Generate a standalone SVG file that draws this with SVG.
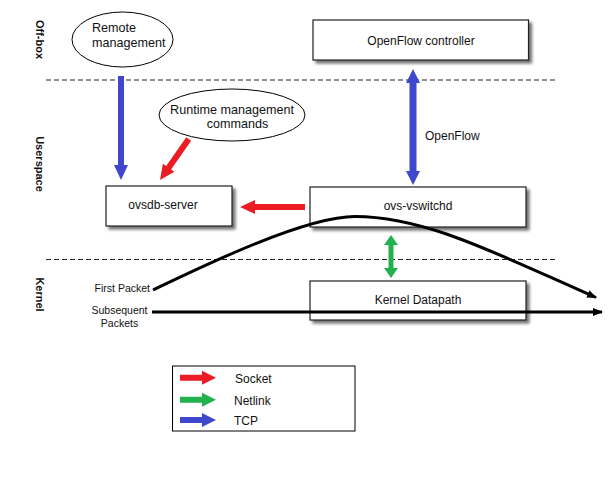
<svg xmlns="http://www.w3.org/2000/svg" width="616" height="486" viewBox="0 0 616 486">
<style>
text{font-family:"Liberation Sans",Arial,sans-serif;fill:#111;font-size:12px}
.lbl{text-anchor:middle}
.big{font-size:12.6px}
.side{font-weight:bold;font-size:11px;text-anchor:middle;dominant-baseline:central}
.small{font-size:10.5px}
.box{fill:#fff;stroke:#222;stroke-width:1.2;filter:url(#sh)}
.ell{fill:#fff;stroke:#000;stroke-width:1}
.dash{stroke:#222;stroke-width:1;stroke-dasharray:5 3;fill:none}
.red{fill:#ed1c24}
.green{fill:#22b14c}
.blue{fill:#3f48cc}
.flow{fill:none;stroke:#000;stroke-width:3}
</style>
<defs>
<filter id="sh" x="-10%" y="-20%" width="125%" height="160%">
<feDropShadow dx="3" dy="3" stdDeviation="1.5" flood-color="#000" flood-opacity="0.55"/>
</filter>
<marker id="ah" markerWidth="10" markerHeight="8" refX="9" refY="4" orient="auto" markerUnits="userSpaceOnUse">
<path d="M0,0 L10,4 L0,8 Z" fill="#000"/>
</marker>
</defs>
<rect width="616" height="486" fill="#fff"/>

<g id="layer-labels">
<text class="side" transform="translate(40,39.5) rotate(90)">Off-box</text>
<text class="side" transform="translate(40,164) rotate(90)">Userspace</text>
<text class="side" transform="translate(40,294.5) rotate(90)">Kernel</text>
</g>

<g id="separators">
<line class="dash" x1="46" y1="80" x2="557" y2="80"/>
<line class="dash" x1="46" y1="259.5" x2="557" y2="259.5"/>
</g>

<g id="remote-management">
<ellipse class="ell" cx="122.5" cy="39.5" rx="50.5" ry="27.5"/>
<text class="big" x="92" y="32">Remote</text>
<text class="big" x="92" y="47">management</text>
</g>

<g id="runtime-management">
<ellipse class="ell" cx="232" cy="115" rx="73" ry="26"/>
<text class="lbl big" x="232" y="113.5">Runtime management</text>
<text class="lbl big" x="237.5" y="128">commands</text>
</g>

<g id="openflow-controller">
<rect class="box" x="313" y="20" width="215.5" height="40"/>
<text class="lbl" x="421" y="44.5">OpenFlow controller</text>
</g>

<g id="ovsdb-server">
<rect class="box" x="106" y="186" width="126" height="40"/>
<text class="lbl" x="163" y="208.5">ovsdb-server</text>
</g>

<g id="ovs-vswitchd">
<rect class="box" x="310" y="187" width="216" height="40"/>
<text class="lbl" x="418" y="210">ovs-vswitchd</text>
</g>

<g id="kernel-datapath">
<rect class="box" x="310" y="281" width="216" height="39"/>
<text class="lbl" x="418" y="304">Kernel Datapath</text>
</g>

<g id="packet-labels">
<text class="small" x="150" y="292" text-anchor="end">First Packet</text>
<text class="small lbl" x="119.5" y="314">Subsequent</text>
<text class="small lbl" x="119.5" y="327">Packets</text>
</g>

<g id="connectors">
<!-- TCP remote -> ovsdb -->
<polygon class="blue" points="118,76 124,76 124,165 128,165 121,180 114,165 118,165"/>
<!-- socket runtime -> ovsdb -->
<polygon class="red" transform="translate(188.7,139) rotate(125)" points="0,-3 35,-3 35,-7 50,0 35,7 35,3 0,3"/>
<!-- socket vswitchd -> ovsdb -->
<polygon class="red" transform="translate(305,207) rotate(180)" points="0,-3 50,-3 50,-7 65,0 50,7 50,3 0,3"/>
<!-- OpenFlow double arrow -->
<polygon class="blue" points="413,69 420,83 416.5,83 416.5,171 420,171 413,185 406,171 409.5,171 409.5,83 406,83"/>
<text x="425" y="140">OpenFlow</text>
<!-- Netlink double arrow -->
<polygon class="green" points="391,235 398,245 393.5,245 393.5,268 398,268 391,278 384,268 388.5,268 388.5,245 384,245"/>
<!-- first packet -->
<path class="flow" d="M153,290 C203,266 305,216.5 355,216.5 C425,216.5 495,253 596,297.5" marker-end="url(#ah)"/>
<!-- subsequent packets -->
<line class="flow" x1="152" y1="312" x2="602" y2="312" marker-end="url(#ah)"/>
</g>

<g id="legend">
<rect x="172.5" y="366" width="182.5" height="65" fill="#fff" stroke="#000" stroke-width="1"/>
<polygon class="red" points="180,374.7 202,374.7 202,370.7 216,377.7 202,384.7 202,380.7 180,380.7"/>
<polygon class="green" points="180,396.7 202,396.7 202,392.7 216,399.7 202,406.7 202,402.7 180,402.7"/>
<polygon class="blue" points="180,417 202,417 202,413 216,420 202,427 202,423 180,423"/>
<text x="235" y="382.5">Socket</text>
<text x="234" y="404.5">Netlink</text>
<text x="234" y="424.5">TCP</text>
</g>
</svg>
